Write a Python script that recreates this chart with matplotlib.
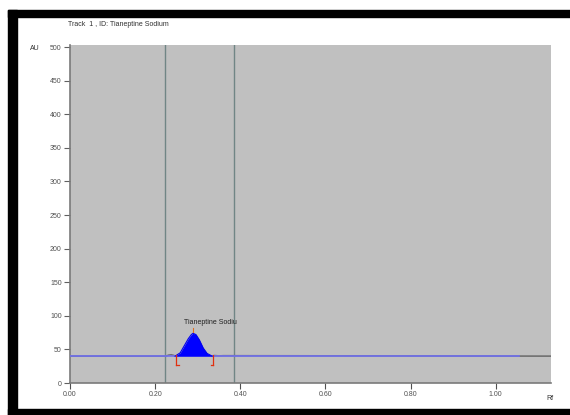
import matplotlib
matplotlib.use("Agg")
import matplotlib.pyplot as plt
from matplotlib.patches import Rectangle

plt.rcParams["font.family"] = ["Liberation Sans", "DejaVu Sans"]

# chromatogram (Rf, AU)
peak_rf = [0.247, 0.259, 0.268, 0.278, 0.285, 0.289, 0.296, 0.304, 0.313, 0.322, 0.334]
peak_au = [40, 45, 55, 66, 72, 74, 72, 64, 52, 44, 40]
signal_rf = [0.0, 0.225, 0.232, 0.238, 0.244, 0.247, 0.334, 0.340, 0.350, 0.360, 1.13]
signal_au = [40, 40, 41.5, 42, 41, 40, 40, 40.8, 40.3, 40.6, 40]
baseline_au = 40
baseline_end = 1.054
track_lines = [0.224, 0.386]
peak_start, peak_end, peak_top = 0.250, 0.337, 0.289
peak_name = "Tianeptine Sodiu"
y_ticks = [0, 50, 100, 150, 200, 250, 300, 350, 400, 450, 500]
x_ticks = [0.0, 0.2, 0.4, 0.6, 0.8, 1.0]

W, H = 570, 415
fig = plt.figure(figsize=(W / 100, H / 100), dpi=100)
fig.patch.set_facecolor("white")
ax = fig.add_axes([70 / W, (H - 383) / H, (551 - 70) / W, (383 - 45) / H])
ax.set_facecolor("#c0c0c0")
ax.set_xlim(0, 1.13)
ax.set_ylim(0, 503)

for s in ("top", "right"):
    ax.spines[s].set_visible(False)
for s in ("left", "bottom"):
    ax.spines[s].set_color("#7a7a7a")
    ax.spines[s].set_linewidth(1.2)

for x in track_lines:
    ax.axvline(x, color="#708585", lw=1.0)

ax.plot(signal_rf, signal_au, color="#707070", lw=1.2, zorder=2)
ax.plot([0, baseline_end], [baseline_au, baseline_au], color="#7070f0", lw=1.2, zorder=3)
ax.fill_between(peak_rf, peak_au, baseline_au, color="#0000ff", lw=0, zorder=4)
ax.plot(peak_rf, peak_au, color="#0000ee", lw=0.8, zorder=4)

for x in (peak_start, peak_end):
    ax.plot([x, x], [27, 42], color="#e03010", lw=0.9, zorder=5)
ax.plot([peak_start, peak_start + 0.006], [27, 27], color="#e03010", lw=0.9, zorder=5)
ax.plot([peak_end, peak_end - 0.006], [27, 27], color="#e03010", lw=0.9, zorder=5)
ax.plot([peak_top, peak_top], [76, 82], color="#e07020", lw=0.8, zorder=5)
ax.text(0.33, 85, peak_name, ha="center", va="bottom", fontsize=5, color="#202020")

ax.set_xticks(x_ticks)
ax.set_xticklabels([f"{v:.2f}" for v in x_ticks])
ax.set_yticks(y_ticks)
ax.set_yticklabels([str(v) for v in y_ticks])
ax.tick_params(axis="both", labelsize=5, colors="#505050", length=4, width=0.8, pad=2)
ax.tick_params(axis="y", color="#606060")

fig.text(68 / W, 1 - 25 / H, "Track  1 , ID: Tianeptine Sodium", fontsize=5, color="#303030", va="center")
fig.text(30 / W, 1 - 48 / H, "AU", fontsize=5, color="#303030", va="center")
fig.text(546 / W, 1 - 398 / H, "Rf", fontsize=5, color="#303030", va="center")

# black frame around the screenshot
for x0, y0, w, h in [(8, 10, 562, 7), (8, 10, 9, 405), (8, 409, 562, 6)]:
    fig.patches.append(Rectangle((x0 / W, 1 - (y0 + h) / H), w / W, h / H,
                                 transform=fig.transFigure, color="black", zorder=10))

fig.savefig("out.png", dpi=100)
